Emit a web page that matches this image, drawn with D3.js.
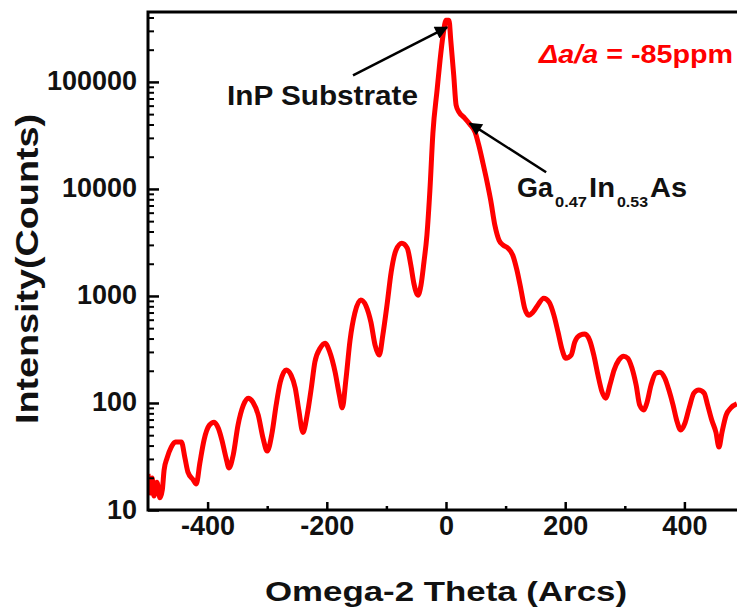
<!DOCTYPE html>
<html>
<head>
<meta charset="utf-8">
<script src="https://cdn.jsdelivr.net/npm/d3@7"></script>
<style>
  html, body { margin: 0; padding: 0; background: #fff; }
  svg { display: block; }
  text { font-family: "Liberation Sans", Arial, sans-serif; font-weight: bold; }
</style>
</head>
<body>
<svg id="chart" width="737" height="609"></svg>
<script>
// ---- data ----
const omega = [-500,-496,-493,-490,-485,-480,-476,-473,-468,-461,-454,-444,-438,-433,-424,-419,-413,-406,-397,-389,-382,-376,-369,-364,-357,-349,-340,-332,-324,-315,-307,-300,-292,-285,-278,-268,-260,-253,-247,-240,-233,-226,-220,-211,-203,-195,-186,-179,-174,-168,-161,-153,-143,-134,-126,-119,-112,-106,-99,-92,-84,-74,-65,-59,-54,-47,-42,-37,-32,-27,-22,-15,-10,-5,0,5,8,13,17,22,30,40,49,55,62,69,75,82,89,96,104,112,119,126,132,139,146,154,164,173,181,188,195,201,210,216,225,233,241,248,255,262,268,275,282,290,298,305,312,319,325,332,337,344,352,359,367,374,381,387,394,401,408,416,424,433,439,446,453,458,463,470,478,488];
const counts = [21.7,14.4,19.9,13.5,18.2,13,15.4,23.6,30.6,38.7,43.2,43.2,30.6,22.6,19.1,17.5,27.5,45,62,66,58,45,30.6,24.7,32.7,62,95.5,111,102,77,47,35.5,52,95.5,157,203,182,138,86,53,77,138,241,326,362,299,194,119,90,164,386,691,915,803,569,347,280,431,820,1668,2677,3113,2795,1940,1318,1017,1260,2070,3700,9730,33100,83500,159000,272000,376000,376000,245000,115000,60500,52000,46700,40200,33800,25600,17400,11560,7840,4580,3320,2980,2795,2400,1742,1133,769,662,706,820,953,875,662,459,312,262,280,370,431,440,386,280,182,126,111,147,203,252,274,262,212,147,95.5,86,100,147,190,194,171,132,95.5,69,56,65,90,124,132,124,95.5,69,53,38.7,53,77,90,98];
const xTickValues = [-400, -200, 0, 200, 400];
const xMinorValues = [-300, -100, 100, 300];
const yTickValues = [10, 100, 1000, 10000, 100000];
const yTickLabels = ["10", "100", "1000", "10000", "100000"];
const xTitle = "Omega-2 Theta (Arcs)";
const yTitle = "Intensity(Counts)";
const mismatchLabel = "\u0394a/a = -85ppm";
const substrateLabel = "InP Substrate";

// ---- layout ----
const svg = d3.select("#chart");
const pL = 148, pR = 744, pT = 12, pB = 510;
const x = d3.scaleLinear().domain([-500, 500]).range([pL, pR]);
const y = d3.scaleLog().domain([10, 450000]).range([pB, pT]);

// minor y ticks
const yMinor = [];
[10, 100, 1000, 10000, 100000].forEach(d => {
  for (let k = 2; k <= 9; k++) { if (d * k <= 450000) yMinor.push(d * k); }
});

const defs = svg.append("defs");
defs.append("clipPath").attr("id", "clip")
  .append("rect").attr("x", pL).attr("y", pT).attr("width", pR - pL).attr("height", pB - pT);
defs.append("marker")
  .attr("id", "arrow").attr("viewBox", "0 0 10 10").attr("refX", 9).attr("refY", 5)
  .attr("markerUnits", "userSpaceOnUse").attr("markerWidth", 17).attr("markerHeight", 13)
  .attr("orient", "auto")
  .append("path").attr("d", "M0,0 L10,5 L0,10 Z").attr("fill", "#000");

// curve
const line = d3.line()
  .x((d, i) => x(omega[i]))
  .y((d, i) => y(counts[i]))
  .curve(d3.curveMonotoneX);
svg.append("path")
  .attr("clip-path", "url(#clip)")
  .attr("d", line(counts))
  .attr("fill", "none")
  .attr("stroke", "#ff0000")
  .attr("stroke-width", 5)
  .attr("stroke-linejoin", "round");

// axes (ticks inward)
const xAxis = d3.axisBottom(x).tickValues(xTickValues).tickSize(-8);
const gx = svg.append("g").attr("transform", `translate(0,${pB})`).call(xAxis);
gx.select(".domain").remove();
gx.selectAll(".tick line").attr("stroke", "#000").attr("stroke-width", 2.5);
gx.selectAll(".tick text").attr("y", 25).attr("dy", 0).attr("font-size", 27).attr("fill", "#111")
  .text(d => d < 0 ? "-" + Math.abs(d) : String(d));

const gxm = svg.append("g").attr("transform", `translate(0,${pB})`)
  .call(d3.axisBottom(x).tickValues(xMinorValues).tickSize(-4).tickFormat(""));
gxm.select(".domain").remove();
gxm.selectAll(".tick line").attr("stroke", "#000").attr("stroke-width", 2.5);

const yAxis = d3.axisLeft(y).tickValues(yTickValues).tickSize(-11)
  .tickFormat((d, i) => yTickLabels[i]);
const gy = svg.append("g").attr("transform", `translate(${pL},0)`).call(yAxis);
gy.select(".domain").remove();
gy.selectAll(".tick line").attr("stroke", "#000").attr("stroke-width", 2.5);
gy.selectAll(".tick text").attr("x", -11).attr("dy", 8).attr("font-size", 27).attr("fill", "#111");

const gym = svg.append("g").attr("transform", `translate(${pL},0)`)
  .call(d3.axisLeft(y).tickValues(yMinor).tickSize(-6).tickFormat(""));
gym.select(".domain").remove();
gym.selectAll(".tick line").attr("stroke", "#000").attr("stroke-width", 2);

// frame
svg.append("rect").attr("x", pL).attr("y", pT).attr("width", pR - pL).attr("height", pB - pT)
  .attr("fill", "none").attr("stroke", "#000").attr("stroke-width", 3);

// titles
svg.append("text").attr("x", x(0)).attr("y", 601).attr("text-anchor", "middle")
  .attr("font-size", 28).attr("fill", "#111").attr("textLength", 362).attr("lengthAdjust", "spacingAndGlyphs")
  .text(xTitle);
svg.append("text").attr("transform", "translate(38,269) rotate(-90)").attr("text-anchor", "middle")
  .attr("font-size", 31).attr("fill", "#111").attr("textLength", 310).attr("lengthAdjust", "spacingAndGlyphs")
  .text(yTitle);

// annotations
svg.append("line")
  .attr("x1", x(-156)).attr("y1", y(115000)).attr("x2", x(1.7)).attr("y2", y(324000))
  .attr("stroke", "#000").attr("stroke-width", 2.5).attr("marker-end", "url(#arrow)");
svg.append("text").attr("x", 227).attr("y", 105).attr("font-size", 27).attr("fill", "#111")
  .attr("textLength", 191).attr("lengthAdjust", "spacingAndGlyphs").text(substrateLabel);

svg.append("line")
  .attr("x1", x(168)).attr("y1", y(14300)).attr("x2", x(40)).attr("y2", y(41000))
  .attr("stroke", "#000").attr("stroke-width", 2.5).attr("marker-end", "url(#arrow)");

const ga = [
  {t: "Ga", x: 517, y: 197, s: 27, w: 36},
  {t: "0.47", x: 555, y: 207, s: 14, w: 32},
  {t: "In", x: 589, y: 197, s: 27, w: 26},
  {t: "0.53", x: 617, y: 207, s: 14, w: 31},
  {t: "As", x: 650, y: 197, s: 27, w: 37}
];
svg.append("g").selectAll("text").data(ga).join("text")
  .attr("x", d => d.x).attr("y", d => d.y).attr("font-size", d => d.s).attr("fill", "#111")
  .attr("textLength", d => d.w).attr("lengthAdjust", "spacingAndGlyphs").text(d => d.t);

const mm = svg.append("text").attr("x", 539).attr("y", 63).attr("font-size", 26).attr("fill", "#ff0000")
  .attr("textLength", 194).attr("lengthAdjust", "spacingAndGlyphs");
mm.append("tspan").attr("font-style", "italic").text(mismatchLabel.slice(0, 4));
mm.append("tspan").text(mismatchLabel.slice(4));
</script>
</body>
</html>
